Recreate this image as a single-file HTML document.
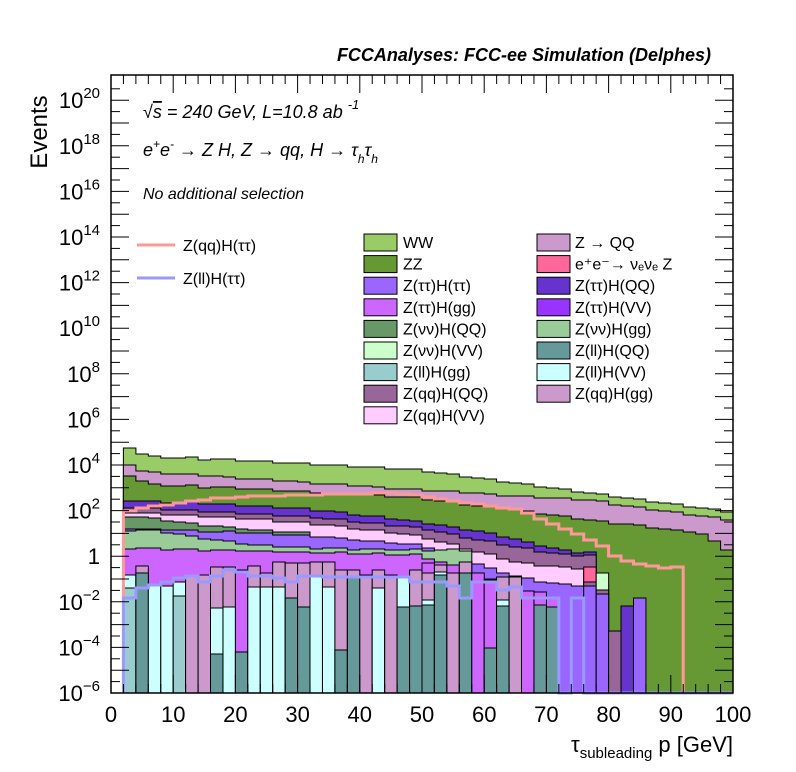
<!DOCTYPE html>
<html><head><meta charset="utf-8"><style>
body{margin:0;background:#fff;}
svg{display:block;font-family:"Liberation Sans",sans-serif;}
</style></head><body>
<svg id="s" width="796" height="772" xmlns="http://www.w3.org/2000/svg">
<rect width="796" height="772" fill="#fff"/>
<g id="hist"></g>
<g id="axes"></g>
<text x="711" y="61" text-anchor="end" font-size="18" font-weight="bold" font-style="italic">FCCAnalyses: FCC-ee Simulation (Delphes)</text>
<text x="47" y="130" font-size="24" transform="rotate(-90 47 130)" text-anchor="middle" dx="-2">Events</text>
<text x="733" y="752" text-anchor="end" font-size="22">τ<tspan font-size="15" dy="6">subleading</tspan><tspan dy="-6"> p [GeV]</tspan></text>
<g font-size="18" font-style="italic">
<text x="143" y="118">√<tspan text-decoration="overline">s</tspan> = 240 GeV, L=10.8 ab <tspan font-size="13" dy="-9">-1</tspan></text>
<text x="143" y="156">e<tspan font-size="12" dy="-8">+</tspan><tspan dy="8">e</tspan><tspan font-size="12" dy="-8">-</tspan><tspan dy="8"> → Z H, Z  → qq, H  → τ</tspan><tspan font-size="12" dy="7">h</tspan><tspan dy="-7">τ</tspan><tspan font-size="12" dy="7">h</tspan></text>
<text x="143" y="199" font-size="16">No additional selection</text>
</g>
<g font-size="16">
<line x1="137" y1="245" x2="175" y2="245" stroke="#ff9999" stroke-width="3"/>
<text x="183" y="251">Z(qq)H(ττ)</text>
<line x1="137" y1="278" x2="175" y2="278" stroke="#9999ff" stroke-width="3"/>
<text x="183" y="284">Z(ll)H(ττ)</text>
<g id="leg"></g>
</g>
</svg>
<script>
const NS="http://www.w3.org/2000/svg";
function el(p,t,a,txt){const e=document.createElementNS(NS,t);for(const k in a)e.setAttribute(k,a[k]);if(txt!==undefined)e.textContent=txt;p.appendChild(e);return e;}
const H=document.getElementById('hist'),A=document.getElementById('axes'),L=document.getElementById('leg');
const X0=111,X1=733,Y0=75,Y1=693,BW=12.44;
function interp(pts,x){if(x<=pts[0][0])return pts[0][1];for(let i=1;i<pts.length;i++){if(x<=pts[i][0]){const a=pts[i-1],b=pts[i];return a[1]+(b[1]-a[1])*(x-a[0])/(b[0]-a[0]);}}return pts[pts.length-1][1];}
function layer(col,pts,b0,b1){let d="",o="";for(let i=b0;i<=b1;i++){const x=X0+BW*i,c=x+BW/2;let y=interp(pts,c);y=Math.round(y+((i*7919)%3-1)*0.7);
d+=`M${x.toFixed(1)},${Y1}V${y}H${(x+BW+0.3).toFixed(1)}V${Y1}Z`;
o+=(i===b0?`M${x.toFixed(1)},${Y1}V${y}`:`V${y}`)+`H${(x+BW).toFixed(1)}`;}
o+=`V${Y1}`;
el(H,'path',{d:d,fill:col,stroke:'none'});el(H,'path',{d:o,fill:'none',stroke:'#000','stroke-width':1});}
layer('#99cc66',[[123,441],[136,453],[150,456],[420,470],[733,512]],1,49);
layer('#cc99cc',[[123,458],[136,470],[150,472],[420,490],[587,500],[733,520]],1,49);
layer('#669933',[[123,473],[150,484],[420,498],[590,520],[700,533],[733,553]],1,49);
layer('#6633cc',[[123,500],[300,508],[420,522],[483,532],[570,552]],1,38);
layer('#996699',[[123,507],[300,516],[420,528],[520,548],[570,555]],1,38);
layer('#ffccff',[[123,512],[300,522],[420,536],[520,563],[570,568]],1,37);
layer('#669966',[[123,515],[200,525],[260,530],[300,533]],1,15);
layer('#9966ff',[[123,528],[300,535],[420,545],[520,578],[570,585]],1,39);
layer('#99cc99',[[123,530],[150,530],[250,545],[300,548],[420,550]],1,28);
layer('#cc66ff',[[123,548],[420,555],[520,590],[570,600]],1,35);
function bar(i,col,y){const x=X0+BW*i;el(H,'rect',{x:x.toFixed(1),y:y,width:BW.toFixed(2),height:Y1-y,fill:col,stroke:'#000','stroke-width':1});}
bar(38,'#ff6699',567);bar(38,'#996699',582);bar(38,'#9966ff',586);
bar(39,'#ccffcc',573);bar(39,'#996699',590);bar(39,'#9966ff',594);
bar(40,'#996699',631);bar(41,'#6633cc',606);bar(42,'#9966ff',598);
const P='#cc99cc',C='#ccffff',T='#669999',LT='#99cccc',M='#cc66ff';
const bins={1:[[C,575],[LT,588]],2:[[P,566],[T,573]],3:[[C,586]],4:[[C,586]],5:[[C,582],[LT,596]],6:[[P,575]],7:[[P,575]],8:[[P,567],[C,608],[T,654]],9:[[P,567],[C,607]],10:[[M,570],[T,652]],11:[[P,566],[C,587]],12:[[P,573],[C,587]],13:[[P,562],[C,587]],14:[[P,563],[T,598]],15:[[P,563],[T,607]],16:[[P,562],[C,577]],17:[[P,562],[C,587]],18:[[P,570],[T,650]],19:[[P,570],[T,576]],20:[[P,575]],21:[[P,570],[C,588]],22:[[P,575]],23:[[C,578],[T,607]],24:[[P,570],[T,606]],25:[[M,563],[P,573],[C,600],[T,605]],26:[[P,565],[C,572],[T,575]],27:[[M,565],[P,573]],28:[[P,562],[T,573]],29:[[M,573]],30:[[M,580],[T,648]],31:[[P,577],[C,600],[T,606]],32:[[P,577]],33:[[M,597]],34:[[M,592],[T,605]],35:[[T,607]]};
for(const k in bins)for(const [c,y] of bins[k])bar(+k,c,y);
function stepLine(col,ys,endx){let d=`M${X0+BW},${Y1}`;for(let i=0;i<ys.length;i++){const x=X0+BW*(i+1);d+=`V${ys[i]}H${(x+BW).toFixed(1)}`;}d+=`V${Y1}`;if(endx)d+=`H${endx}`;el(H,'path',{d:d,fill:'none',stroke:col,'stroke-width':3});}
const red=[];for(let i=1;i<=45;i++){const c=X0+BW*i+BW/2;red.push(Math.round(interp([[129,511],[142,508],[185,502],[220,498],[260,496],[300,495],[400,493],[420,496],[460,502],[520,510],[560,527],[600,544],[620,560],[660,568],[683,566]],c)));}
stepLine('#ff9999',red);
const blue=[598,588,585,582,578,576,582,576,570,572,576,576,578,582,576,576,577,577,577,577,577,577,577,582,582,582,586,598,582,582,590,587,598,598,598,693,598];
stepLine('#9999ff',blue,X1);
el(A,'rect',{x:X0,y:Y0,width:X1-X0,height:Y1-Y0,fill:'none',stroke:'#000','stroke-width':1.5});
function ly(L){return Y1-(L+6)*22.8;}
for(let d=-6;d<=20.5;d+=0.5){const y=ly(d);if(y<Y0)break;const len=(d%1===0)?18:9;
el(A,'line',{x1:X0,y1:y,x2:X0+len,y2:y,stroke:'#000'});el(A,'line',{x1:X1,y1:y,x2:X1-len,y2:y,stroke:'#000'});}
for(let d=-6;d<=20;d+=2){const y=ly(d);
if(d===0){el(A,'text',{x:100,y:y+8,'text-anchor':'end','font-size':22},'1');}
else{const t=el(A,'text',{x:100,y:y+8,'text-anchor':'end','font-size':22});el(t,'tspan',{},'10');el(t,'tspan',{'font-size':15,dy:-10},String(d).replace('-','−'));}}
for(let v=0;v<=100;v+=2){const x=X0+v*6.22;const len=(v%10===0)?18:9;
el(A,'line',{x1:x,y1:Y1,x2:x,y2:Y1-len,stroke:'#000'});el(A,'line',{x1:x,y1:Y0,x2:x,y2:Y0+len,stroke:'#000'});}
for(let v=0;v<=100;v+=10){el(A,'text',{x:X0+v*6.22,y:722,'text-anchor':'middle','font-size':22},String(v));}
const leg=[['#99cc66','WW','#cc99cc','Z → QQ'],['#669933','ZZ','#ff6699','e⁺e⁻→ νₑνₑ Z'],['#9966ff','Z(ττ)H(ττ)','#6633cc','Z(ττ)H(QQ)'],['#cc66ff','Z(ττ)H(gg)','#9933ff','Z(ττ)H(VV)'],['#669966','Z(νν)H(QQ)','#99cc99','Z(νν)H(gg)'],['#ccffcc','Z(νν)H(VV)','#669999','Z(ll)H(QQ)'],['#99cccc','Z(ll)H(gg)','#ccffff','Z(ll)H(VV)'],['#996699','Z(qq)H(QQ)','#cc99cc','Z(qq)H(gg)'],['#ffccff','Z(qq)H(VV)',null,null]];
leg.forEach((r,i)=>{const y=242+i*21.6;
el(L,'rect',{x:364,y:y-8,width:33,height:17,fill:r[0],stroke:'#000'});el(L,'text',{x:403,y:y+6},r[1]);
if(r[2]){el(L,'rect',{x:537,y:y-8,width:33,height:17,fill:r[2],stroke:'#000'});el(L,'text',{x:575,y:y+6},r[3]);}});
</script>
</body></html>
